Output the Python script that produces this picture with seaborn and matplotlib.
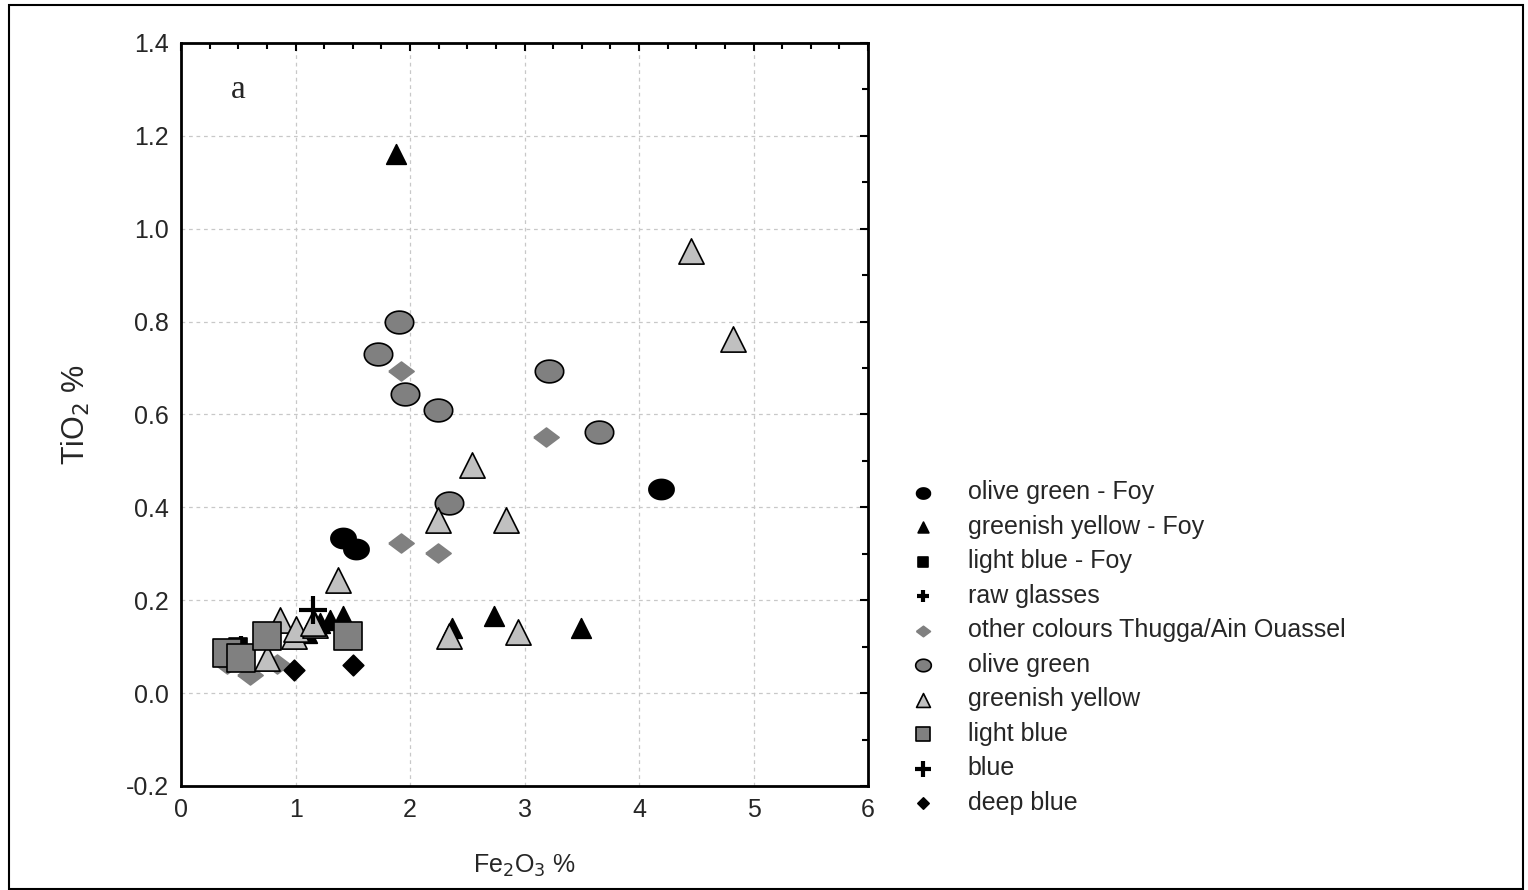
import numpy as np
import matplotlib
matplotlib.use("Agg")
import matplotlib.pyplot as plt
import seaborn as sns
from matplotlib.patches import Rectangle
from matplotlib.ticker import MultipleLocator

# values (Fe2O3 %, TiO2 %)
olive_foy_x = [1.41, 1.53, 4.19]
olive_foy_y = [0.335, 0.31, 0.44]

gy_foy_x = [1.88, 1.10, 1.21, 1.30, 1.41, 2.37, 2.73, 3.49]
gy_foy_y = [1.16, 0.13, 0.15, 0.158, 0.165, 0.14, 0.165, 0.14]

lb_foy_x = [0.50]
lb_foy_y = [0.10]

raw_x = [0.52]
raw_y = [0.10]

other_x = [1.92, 3.19, 1.92, 2.24, 0.40, 0.60, 0.84]
other_y = [0.694, 0.552, 0.324, 0.302, 0.062, 0.04, 0.062]

olive_x = [1.90, 1.72, 1.96, 2.24, 3.21, 3.65, 2.34, 0.50]
olive_y = [0.80, 0.73, 0.645, 0.61, 0.694, 0.563, 0.41, 0.083]

gy_x = [4.45, 4.82, 2.54, 2.24, 2.84, 1.37, 2.34, 2.94, 0.86, 0.99, 1.00, 1.17, 0.75, 1.15]
gy_y = [0.953, 0.763, 0.492, 0.373, 0.373, 0.244, 0.124, 0.132, 0.158, 0.124, 0.137, 0.147, 0.076, 0.15]

lb_x = [0.40, 0.52, 0.75, 1.46]
lb_y = [0.087, 0.075, 0.122, 0.122]

blue_x = [1.15]
blue_y = [0.18]

deep_x = [0.99, 1.50]
deep_y = [0.05, 0.061]

sns.set_style("white")
plt.rcParams['font.family'] = ['Liberation Sans', 'DejaVu Sans']

fig = plt.figure(figsize=(15.28, 8.9), dpi=100)
ax = fig.add_axes([0.1185, 0.1169, 0.4496, 0.8348])

# ellipse marker, a bit wider than tall
t = np.linspace(0, 2 * np.pi, 40)
ellipse = list(zip(np.cos(t), 0.8 * np.sin(t)))
# flattened diamond
flat_dia = [(-1, 0), (0, 0.75), (1, 0), (0, -0.75), (-1, 0)]

groups = [
    (olive_foy_x, olive_foy_y, "olive green - Foy", ellipse, "black", "black", 330),
    (gy_foy_x, gy_foy_y, "greenish yellow - Foy", "^", "black", "black", 200),
    (lb_foy_x, lb_foy_y, "light blue - Foy", "s", "black", "black", 180),
    (raw_x, raw_y, "raw glasses", "+", "black", "black", 250),
    (other_x, other_y, "other colours Thugga/Ain Ouassel", flat_dia, "#808080", "#808080", 330),
    (olive_x, olive_y, "olive green", ellipse, "#808080", "black", 420),
    (gy_x, gy_y, "greenish yellow", "^", "#c0c0c0", "black", 330),
    (lb_x, lb_y, "light blue", "s", "#808080", "black", 380),
    (blue_x, blue_y, "blue", "+", "black", "black", 420),
    (deep_x, deep_y, "deep blue", "D", "black", "black", 110),
]

for x, y, lab, m, fc, ec, s in groups:
    lw = 3 if m == "+" else 1.2
    sns.scatterplot(x=x, y=y, ax=ax, marker=m, s=s, color=fc, edgecolor=ec,
                    linewidth=lw, label=lab, zorder=3)

ax.set_xlim(0, 6)
ax.set_ylim(-0.2, 1.4)
ax.xaxis.set_major_locator(MultipleLocator(1))
ax.xaxis.set_minor_locator(MultipleLocator(0.25))
ax.yaxis.set_major_locator(MultipleLocator(0.2))
ax.yaxis.set_minor_locator(MultipleLocator(0.1))
ax.yaxis.set_major_formatter(plt.FuncFormatter(lambda v, p: f"{v:.1f}"))
ax.tick_params(which="both", direction="in", top=True, right=True, labelsize=18,
               width=1.5, color="black", pad=9)
ax.tick_params(which="major", length=6)
ax.tick_params(which="minor", length=4)
ax.grid(True, which="major", linestyle=(0, (3, 3)), color="#c8c8c8", linewidth=0.9)
for sp in ax.spines.values():
    sp.set_color("black")
    sp.set_linewidth(2)

ax.set_xlabel("Fe$_2$O$_3$ %", fontsize=18, labelpad=22)
ax.set_ylabel("TiO$_2$ %", fontsize=22, labelpad=24)

ax.text(0.083, 0.937, "a", transform=ax.transAxes, fontsize=24,
        family=["Liberation Serif", "DejaVu Serif"], ha="center", va="center")

ax.legend(loc="upper left", bbox_to_anchor=(1.047, 0.425), frameon=False,
          fontsize=18, markerscale=0.55, labelspacing=0.42, handlelength=1.0,
          handletextpad=1.3, borderaxespad=0)

fig.patches.append(Rectangle((0.006, 0.001), 0.991, 0.993, transform=fig.transFigure,
                             fill=False, edgecolor="black", linewidth=1.5))

fig.savefig("out.png", dpi=100)
